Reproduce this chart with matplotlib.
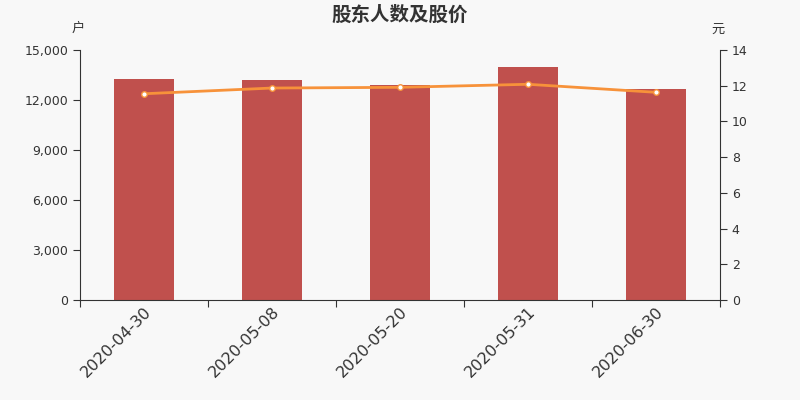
import matplotlib
matplotlib.use("Agg")
import matplotlib.pyplot as plt
import matplotlib.transforms as mtransforms
import numpy as np
from matplotlib.ticker import FuncFormatter

plt.rcParams['font.family'] = ['DejaVu Sans', 'Noto Sans CJK SC']

dates = ["2020-04-30", "2020-05-08", "2020-05-20", "2020-05-31", "2020-06-30"]
holders = [13260, 13200, 12900, 13980, 12640]
price = [11.55, 11.87, 11.91, 12.08, 11.63]
left_ticks = [0, 3000, 6000, 9000, 12000, 15000]
right_ticks = [0, 2, 4, 6, 8, 10, 12, 14]

bg = "#f8f8f8"
fig = plt.figure(figsize=(8, 4), dpi=100, facecolor=bg)
ax = fig.add_axes([0.1, 0.25, 0.8, 0.625], facecolor=bg)
x = np.arange(len(dates))
ax.bar(x, holders, width=0.47, color="#c0504d", zorder=2)
ax.set_xlim(-0.5, len(dates) - 0.5)
ax.set_ylim(0, 15000)
ax.set_yticks(left_ticks)
ax.yaxis.set_major_formatter(FuncFormatter(lambda v, p: f"{int(v):,}"))
ax.set_xticks(np.arange(-0.5, len(dates) + 0.5, 1.0))
ax.set_xticklabels([])
ax.set_xticks(x, minor=True)
ax.set_xticklabels(dates, minor=True, rotation=45, ha="right", va="top",
                   rotation_mode="anchor", fontsize=11.5, color="#333333")
offset = mtransforms.ScaledTranslation(-4 / 100, 0, fig.dpi_scale_trans)
for lbl in ax.xaxis.get_minorticklabels():
    lbl.set_transform(lbl.get_transform() + offset)
ax.tick_params(axis="x", which="minor", length=0, pad=3)
ax.tick_params(axis="x", which="major", length=5, color="#333333")
ax.tick_params(axis="y", length=5, color="#333333", labelsize=9, labelcolor="#333333")
for s in ["top", "right"]:
    ax.spines[s].set_visible(False)
for s in ["left", "bottom"]:
    ax.spines[s].set_color("#333333")

ax2 = ax.twinx()
ax2.plot(x, price, color="#f7923a", lw=2, marker="o", ms=4,
         mfc="white", mec="#f7923a", mew=1, zorder=3)
ax2.set_ylim(0, 14)
ax2.set_yticks(right_ticks)
ax2.tick_params(axis="y", length=5, color="#333333", labelsize=9, labelcolor="#333333")
for s in ["top", "left", "bottom"]:
    ax2.spines[s].set_visible(False)
ax2.spines["right"].set_color("#333333")

fig.text(0.5, 0.963, "股东人数及股价", ha="center", va="center", fontsize=14,
         fontweight="bold", color="#333333", family=["Noto Sans CJK SC", "DejaVu Sans"])
fig.text(0.098, 0.928, "户", ha="center", va="center", fontsize=9.5,
         color="#333333", family=["Noto Sans CJK SC", "DejaVu Sans"])
fig.text(0.898, 0.928, "元", ha="center", va="center", fontsize=9.5,
         color="#333333", family=["Noto Sans CJK SC", "DejaVu Sans"])

fig.savefig("out.png", dpi=100, facecolor=bg)
